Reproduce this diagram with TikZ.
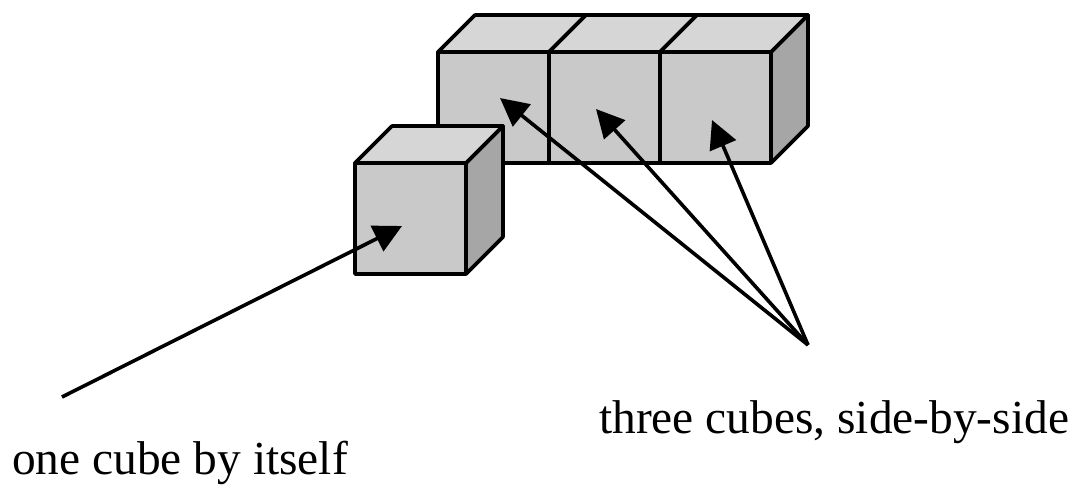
\documentclass[tikz,border=0pt]{standalone}
\usepackage{fontspec}
\setmainfont{Liberation Serif}
\usetikzlibrary{arrows.meta}

\tikzset{
    cubeline/.style={draw=black,line width=3.6pt,line join=round},
    cubefront/.style={cubeline,fill=black!21},
    cubetop/.style={cubeline,fill=black!16},
    cubeside/.style={cubeline,fill=black!35},
    pointer/.style={line width=3.6pt,-{Triangle[length=28pt,width=28pt]}},
    caption/.style={anchor=base west,inner sep=0pt,font=\fontsize{47.4}{48}\selectfont}
}

\begin{document}
\begin{tikzpicture}[x=1pt,y=-1pt]
    \useasboundingbox (0,0) rectangle (1073,485);
    % row first, the single cube sits in front of it
    \foreach \cx/\cy in {438/52,549/52,660/52,355/163} {
        \draw[cubeside] (\cx+111,\cy) -- ++(37,-37) -- ++(0,111) -- ++(-37,37) -- cycle;
        \draw[cubetop] (\cx,\cy) -- ++(37,-37) -- ++(111,0) -- ++(-37,37) -- cycle;
        \draw[cubefront] (\cx,\cy) rectangle ++(111,111);
    }
    \coordinate (single) at (402,226);
    \coordinate (left) at (500,98);
    \coordinate (middle) at (596,109);
    \coordinate (right) at (712,120);
    \coordinate (start) at (62,397);
    \coordinate (fork) at (808,345);
    \draw[pointer] (start) -- (single);
    \draw[pointer] (fork) -- (left);
    \draw[pointer] (fork) -- (middle);
    \draw[pointer] (fork) -- (right);
    \node[caption] (three) at (599,433) {three cubes, side-by-side};
    \node[caption] (one) at (12,474) {one cube by itself};
\end{tikzpicture}
\end{document}
